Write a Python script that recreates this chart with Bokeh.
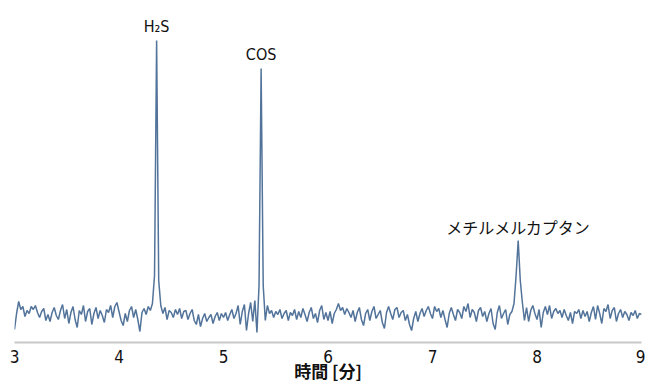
import numpy as np
from bokeh.plotting import figure
from bokeh.models import ColumnDataSource, FixedTicker
from bokeh.core.properties import value
from bokeh.embed import file_html
from bokeh.resources import INLINE

signal = [
    # 3.00 - 3.48
    -1.4, 0.2, 1.4, 0.6, 0.9, -0.1, 0.5, 0.2, 0.9, 0.6, 1.0, 0.3, -0.2, 0.4, 0.7, -0.5, 0.1, -0.6, 0.3, 0.8, 0.0, -0.4, 0.5, 1.1, -0.3,
    # 3.50 - 3.98
    0.6, -0.8, 0.3, 0.9, -0.4, -1.2, 0.5, 0.1, 1.0, -0.6, 0.4, 0.7, -0.9, 0.2, 0.8, -0.3, 0.5, 0.0, -0.7, 0.6, 0.3, 1.0, -0.2, 0.9, 1.3,
    # 4.00 - 4.48  (H2S)
    0.4, -0.5, -1.0, 0.2, -0.6, 0.5, 0.9, -0.2, 0.6, -0.4, -1.6, 0.3, 0.7, 0.1, 0.9, 0.5, 1.2, 4.0, 27.5, 3.5, 1.0, 0.2, 0.8, -0.4, 0.5,
    # 4.50 - 4.98
    0.3, -0.2, 0.6, 0.1, 0.7, -0.3, 0.4, 0.5, -0.4, 0.2, 0.6, -0.5, -0.9, 0.1, -1.1, -0.3, 0.2, -0.6, -0.2, 0.1, -0.8, -0.1, 0.3, -0.5, 0.2,
    # 5.00 - 5.48  (COS)
    -0.2, 0.3, -0.5, 0.1, 0.6, -0.3, 0.2, 1.0, -0.9, 0.4, 1.1, -1.5, 0.2, 1.3, -0.6, 1.5, -1.7, 3.0, 24.7, 3.0, -0.5, 1.0, 0.2, 0.5, -0.2,
    # 5.50 - 5.98
    0.4, 0.1, 0.6, -0.3, 0.2, 0.5, -0.5, 0.3, 0.0, 0.6, -0.4, 0.4, -0.2, 0.7, 0.1, -0.6, 0.3, 0.8, -0.3, 0.2, -0.7, 0.5, 1.0, -0.4, 0.3,
    # 6.00 - 6.48
    -0.5, 0.4, -0.8, 0.2, 0.6, 1.2, 0.5, 0.8, 0.1, 0.7, 0.3, -0.2, 0.5, -0.6, 0.3, 0.8, -0.4, -1.0, 0.2, 0.6, -0.5, 0.4, 0.9, -0.3, 0.1,
    # 6.50 - 6.98
    0.5, -0.7, -1.3, 0.3, 0.9, 0.2, -0.4, 0.6, 0.8, -0.2, 0.3, 0.5, -0.5, 0.1, -0.9, -1.5, -0.3, 0.4, -0.6, 0.2, 0.7, -0.1, 0.5, 0.9, 0.2,
    # 7.00 - 7.48
    -0.3, 0.9, 0.4, 0.7, -0.2, 0.5, -0.4, -1.2, 0.2, 0.8, 0.1, -0.5, 0.6, 0.3, -0.3, 0.9, 0.4, 1.2, -0.2, 0.6, 0.3, -0.6, 0.5, 0.8, -0.1,
    # 7.50 - 7.98  (methyl mercaptan)
    0.4, -0.6, 0.2, 0.7, -0.8, -1.4, 0.3, 1.0, -0.3, 0.2, 0.6, -0.9, 0.1, 0.4, 1.2, 4.0, 7.5, 3.5, 1.3, -0.5, 0.8, -0.6, 0.5, 1.0, 0.2,
    # 8.00 - 8.48
    -0.4, 0.6, -1.2, 0.3, 0.9, 0.1, 1.0, -0.3, 0.4, 0.7, 0.2, 0.5, -0.2, 0.6, 0.0, -0.5, 0.3, -0.8, 0.4, 0.2, 0.6, -0.3, 0.5, -0.1, 0.4,
    # 8.50 - 8.98
    -0.6, 0.3, 0.9, -0.4, 1.0, 0.2, -0.8, 0.7, 0.4, 1.1, -0.3, 0.5, 0.8, -0.6, 0.2, 0.6, -0.2, 0.4, 0.1, -0.5, 0.3, 0.0, 0.5, -0.3, 0.2,
    # 9.00
    0.1,
]
time_start, time_end = 3.0, 9.0
times = np.linspace(time_start, time_end, len(signal))

peak_times = [4.36, 5.36, 7.82]
peak_labels = ["H\u2082S", "COS", "メチルメルカプタン"]

x_ticks = [3, 4, 5, 6, 7, 8, 9]
x_label = "時間 [分]"

LATIN = "DejaVu Sans Condensed"

sig = np.array(signal)
peak_heights = [float(sig[np.argmin(np.abs(times - t))]) for t in peak_times]

p = figure(width=645, height=385, output_backend="svg", toolbar_location=None,
           x_range=(time_start, time_end), y_range=(-2.7, 31.5),
           y_axis_location=None, min_border_left=14, min_border_right=4,
           min_border_top=0, min_border_bottom=0)
p.outline_line_color = None
p.xgrid.visible = False
p.ygrid.visible = False
p.background_fill_color = "white"

p.line(times, signal, line_color="#52739a", line_width=1.5)

src_latin = ColumnDataSource(dict(x=peak_times[:2], y=peak_heights[:2], t=peak_labels[:2]))
src_jp = ColumnDataSource(dict(x=peak_times[2:], y=peak_heights[2:], t=peak_labels[2:]))
p.text(x="x", y="y", text="t", source=src_latin, text_align="center", text_baseline="bottom",
       y_offset=-5, text_font=value(LATIN), text_font_size="16px", text_color="#111111")
p.text(x="x", y="y", text="t", source=src_jp, text_align="center", text_baseline="bottom",
       y_offset=-2, text_font=value("Noto Sans CJK JP"), text_font_size="16px", text_color="#111111")

ax = p.xaxis[0]
ax.ticker = FixedTicker(ticks=x_ticks)
ax.axis_line_color = "#c8c8c8"
ax.axis_line_width = 2
ax.major_tick_line_color = None
ax.minor_tick_line_color = None
ax.major_label_text_font = LATIN
ax.major_label_text_font_size = "17px"
ax.major_label_text_color = "#111111"
ax.major_label_standoff = 1
ax.axis_label = x_label
ax.axis_label_text_font = "Noto Sans CJK JP"
ax.axis_label_text_font_style = "bold"
ax.axis_label_text_font_size = "17px"
ax.axis_label_text_color = "#111111"
ax.axis_label_standoff = -8

open("out.html", "w").write(file_html(p, INLINE))
